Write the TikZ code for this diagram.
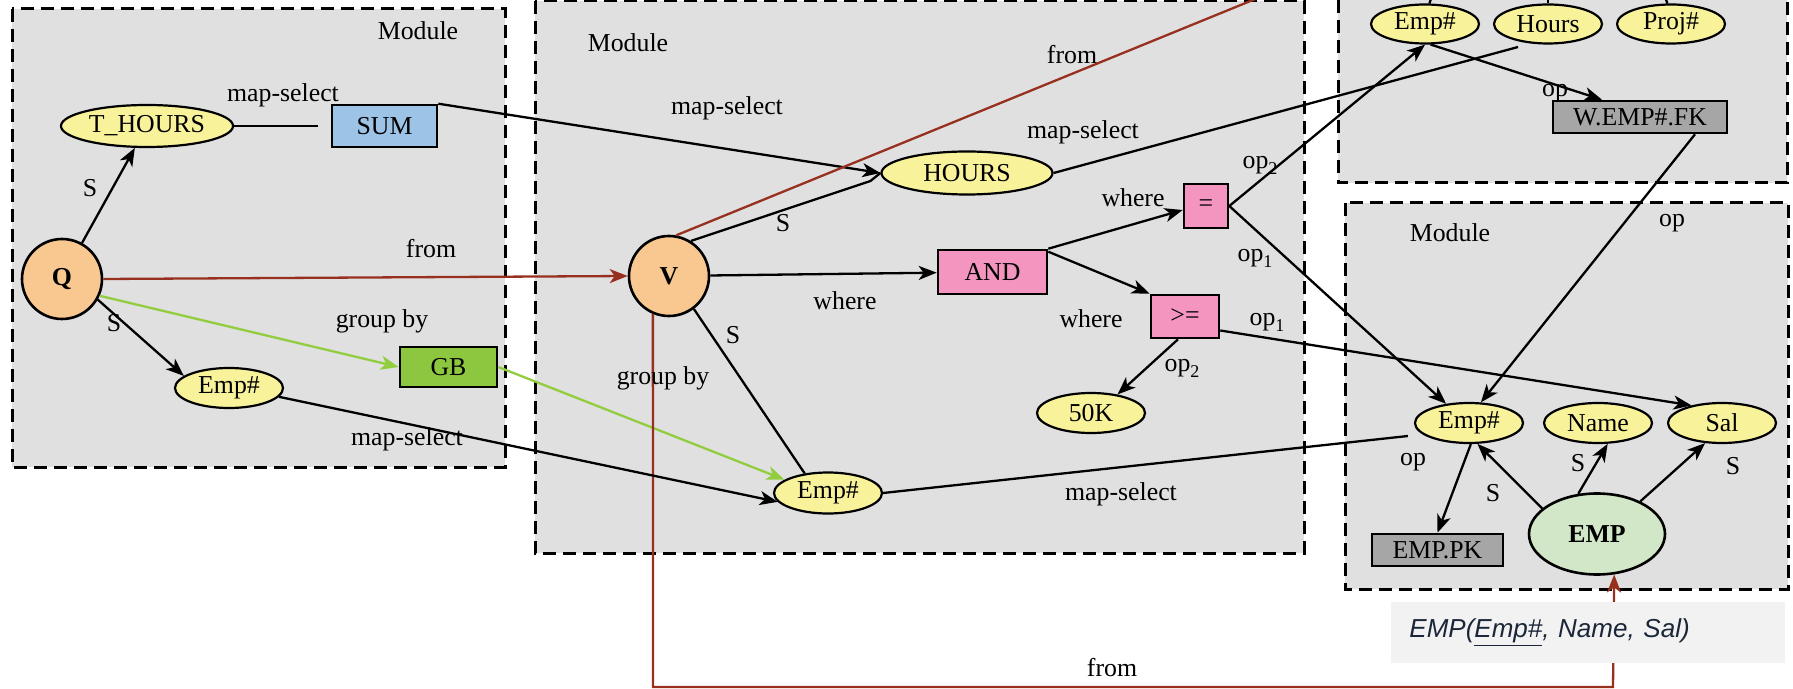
\documentclass[tikz,border=0pt]{standalone}
\usepackage{fontspec}
\setmainfont{Liberation Serif}
\newfontfamily\labsans{Liberation Sans}
\usetikzlibrary{arrows.meta,shapes.geometric,calc}

\definecolor{modgray}{HTML}{E0E0E0}
\definecolor{ylw}{HTML}{F8F29B}
\definecolor{peach}{HTML}{F9C890}
\definecolor{sumblue}{HTML}{9DC3E6}
\definecolor{gbgreen}{HTML}{8DC63F}
\definecolor{pinkop}{HTML}{F395BE}
\definecolor{keygray}{HTML}{A6A6A6}
\definecolor{empgreen}{HTML}{D2E7C8}
\definecolor{fromred}{HTML}{98301F}
\definecolor{grpgreen}{HTML}{92CD3F}
\definecolor{boxbg}{HTML}{F2F2F2}
\definecolor{navy}{HTML}{1B2638}

\newcommand{\opsub}[1]{op\raisebox{-0.5ex}{\fontsize{9}{9}\selectfont #1}}

\begin{document}
\begin{tikzpicture}[x=0.5pt,y=-0.5pt, font=\fontsize{12.9}{15}\selectfont,
  module/.style={draw, fill=modgray, line width=1.5pt, dash pattern=on 6.5pt off 3.5pt},
  attr/.style={ellipse, draw, line width=1.1pt, fill=ylw, inner sep=0pt, minimum width=54pt, minimum height=20pt},
  var/.style={circle, draw, line width=1.3pt, fill=peach, minimum size=40pt, inner sep=0pt, font=\fontsize{12.9}{15}\selectfont\bfseries},
  opbox/.style={rectangle, draw, line width=1.3pt, inner sep=0pt},
  lbl/.style={inner sep=0pt},
  lnk/.style={line width=1.15pt},
  tip/.style={-{Stealth[length=9pt,width=7pt,inset=2.5pt]}},
  arr/.style={lnk, tip},
  grn/.style={line width=1.15pt, draw=grpgreen, tip},
  redln/.style={line width=1.15pt, draw=fromred},
  redarr/.style={redln, tip},
  labelbox/.style={fill=boxbg, minimum height=30.5pt, text width=179pt, inner xsep=9pt, inner ysep=0pt, align=left, text=navy, font=\labsans\itshape\fontsize{13}{15}\selectfont}
]
\useasboundingbox (0,0) rectangle (1793,689);
\clip (0,0) rectangle (1793,689);
\fill[white] (0,0) rectangle (1793,689);

% modules
\draw[module] (12,9) rectangle (505,467);
\draw[module] (535,1) rectangle (1304,553);
\draw[module] (1338,-20) rectangle (1787,183);
\draw[module] (1345,203) rectangle (1788,589);

\node[lbl] (ml1) at (418,31) {Module};
\node[lbl] (ml2) at (628,43) {Module};
\node[lbl] (ml4) at (1450,233) {Module};
\node[lbl] (lopfk) at (1555,93) {op};

% nodes
\node[var] (Q) at (62,279) {Q};
\node[attr, minimum width=86pt, minimum height=21pt] (THOURS) at (147,126) {T\_HOURS};
\node[opbox, fill=sumblue, minimum width=52.5pt, minimum height=21pt] (SUM) at (384.5,126) {SUM};
\node[attr] (EmpL) at (229,388) {Emp\#};
\node[opbox, fill=gbgreen, minimum width=48.5pt, minimum height=20pt] (GB) at (448.5,367) {GB};
\node[var] (V) at (669,276) {V};
\node[attr, minimum width=85.5pt, minimum height=21.5pt] (HOURS) at (967,173) {HOURS};
\node[opbox, fill=pinkop, minimum width=54.5pt, minimum height=22pt] (AND) at (992.5,272) {AND};
\node[opbox, fill=pinkop, minimum width=22pt, minimum height=22pt] (EQ) at (1206,206) {=};
\node[opbox, fill=pinkop, minimum width=34pt, minimum height=21.5pt] (GE) at (1185,316.5) {>=};
\node[attr] (K50) at (1091,413) {50K};
\node[attr, minimum height=20.5pt] (EmpM) at (828,493) {Emp\#};
\node[attr, minimum height=19.5pt] (TEmp) at (1425,24) {Emp\#};
\node[attr, minimum height=19.5pt] (THrs) at (1548,24) {Hours};
\node[attr, minimum height=19.5pt] (TProj) at (1671,24) {Proj\#};
\node[opbox, fill=keygray, minimum width=87pt, minimum height=16pt] (FK) at (1640,117) {W.EMP\#.FK};
\node[attr] (REmp) at (1469,423) {Emp\#};
\node[attr] (Name) at (1598,423) {Name};
\node[attr] (Sal) at (1722,423) {Sal};
\node[ellipse, draw, line width=1.3pt, fill=empgreen, minimum width=68pt, minimum height=40.5pt, inner sep=0pt, font=\fontsize{12.9}{15}\selectfont\bfseries] (EMP) at (1597,534) {EMP};
\node[opbox, fill=keygray, minimum width=65.5pt, minimum height=16pt] (PK) at (1437.5,550) {EMP.PK};

% free-end coordinates
\coordinate (sumgap) at (318,126);
\coordinate (topout) at (1275,-9);
\coordinate (botL) at (653,687);
\coordinate (botR) at (1613,687);

% edges
\draw[lnk] (THOURS.east) -- (sumgap);
\draw[arr] (SUM.north east) -- (HOURS.west);
\draw[lnk] (V.58) -- ($(HOURS.west)+(-10,8)$) -- (HOURS.west);
\draw[arr] (Q) -- (THOURS);
\draw[arr] (Q.-30) -- (EmpL.165);
\draw[grn] (Q.-24) -- (GB.west);
\draw[grn] (GB.east) -- (EmpM.163);
\draw[redarr] (Q.east) -- (V.west);
\draw[redln] (V.80) -- (topout);
\draw[lnk] (V.-53) -- (EmpM.140);
\draw[arr] (V) -- (AND);
\draw[redarr] (V.-113) -- (botL) -- (botR) -- (EMP.-67);
\draw[arr] (AND.north east) -- ($(EQ.west)+(0,4)$);
\draw[arr] ($(AND.north east)+(0,3)$) -- (GE.north west);
\draw[arr] ($(GE.south)+(-7,0)$) -- (K50.35);
\draw[arr] (EQ.east) -- (TEmp.south);
\draw[arr] (EQ.east) -- (REmp.140);
\draw[arr] ($(GE.east)+(0,14)$) -- (Sal.150);
\draw[lnk] (HOURS.east) -- ($(THrs.center)+(-30,23)$);
\draw[lnk] (EmpM.east) -- ($(REmp.west)+(-6,13)$);
\draw[arr] (EmpL.-10) -- (EmpM.190);
\draw[arr] (TEmp.-75) -- ($(FK.north)+(-38,0)$);
\draw[arr] ($(FK.south)+(55,0)$) -- (REmp.60);
\draw[arr] (REmp.-85) -- (PK.north);
\draw[arr] (EMP.155) -- (REmp.-68);
\draw[arr] (EMP.115) -- (Name.-65);
\draw[arr] (EMP.37) -- (Sal.-130);
\draw[lnk] (TEmp.78) -- ++(5,-14);
\draw[lnk] (THrs.north) -- ++(0,-14);
\draw[lnk] (TProj.100) -- ++(-5,-14);

% labels
\node[lbl] at (283,95) {map-select};
\node[lbl] at (90,188) {S};
\node[lbl] at (114,323) {S};
\node[lbl] at (431,249) {from};
\node[lbl] at (382,321) {group by};
\node[lbl] at (407,439) {map-select};
\node[lbl] at (727,108) {map-select};
\node[lbl] at (783,223) {S};
\node[lbl] at (845,301) {where};
\node[lbl] at (733,335) {S};
\node[lbl] at (663,378) {group by};
\node[lbl] at (1072,55) {from};
\node[lbl] at (1083,132) {map-select};
\node[lbl] at (1260,165) {\opsub{2}};
\node[lbl] at (1133,198) {where};
\node[lbl] at (1255,258) {\opsub{1}};
\node[lbl] at (1091,319) {where};
\node[lbl] at (1267,322) {\opsub{1}};
\node[lbl] at (1182,368) {\opsub{2}};
\node[lbl] at (1121,494) {map-select};
\node[lbl] at (1672,223) {op};
\node[lbl] at (1413,462) {op};
\node[lbl] at (1493,493) {S};
\node[lbl] at (1578,463) {S};
\node[lbl] at (1733,466) {S};
\node[lbl] at (1112,668) {from};

% schema box
\node[labelbox, anchor=west] (EMPdef) at (1391,632.5) {EMP(\underline{Emp\#}, Name, Sal)};
\end{tikzpicture}
\end{document}
